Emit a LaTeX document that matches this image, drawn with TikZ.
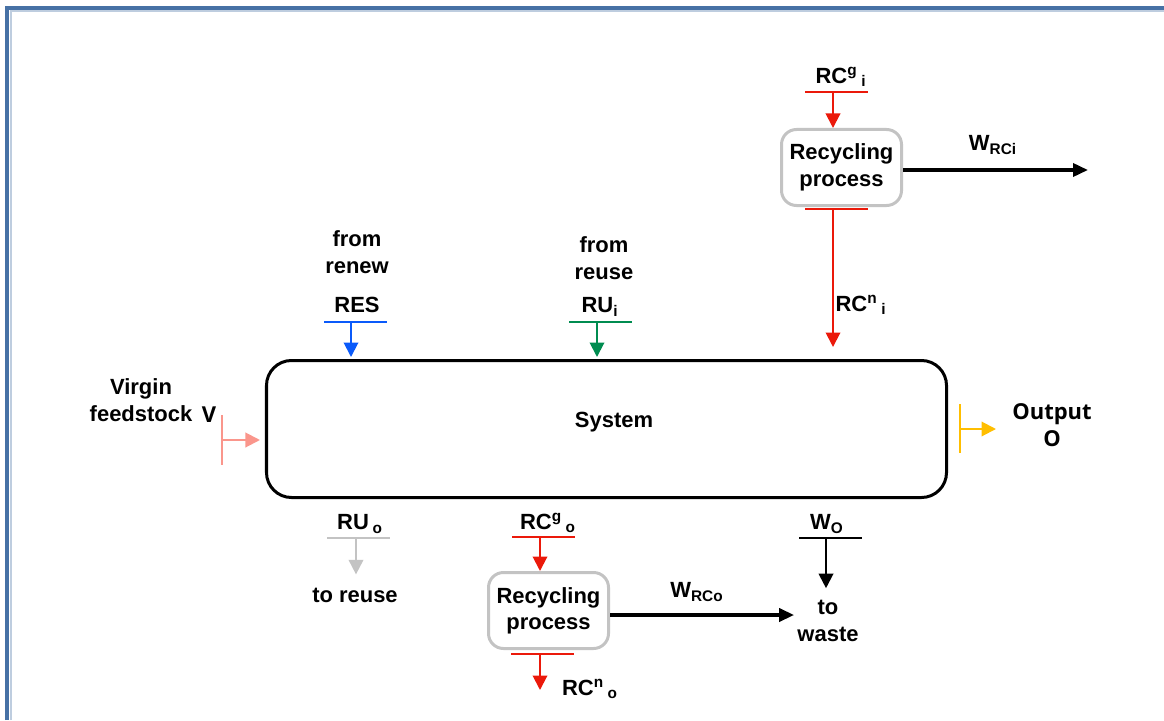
\documentclass[tikz,border=0pt]{standalone}
\usepackage{fontspec}
\setmainfont{Liberation Sans}
\newfontfamily\outfont{Open Sans}
\usetikzlibrary{arrows.meta}
\definecolor{frameblue}{RGB}{71,113,165}
\definecolor{flowred}{RGB}{235,25,10}
\definecolor{flowblue}{RGB}{10,90,250}
\definecolor{flowgreen}{RGB}{0,140,80}
\definecolor{flowpink}{RGB}{250,150,140}
\definecolor{flowyellow}{RGB}{255,190,0}
\definecolor{flowgrey}{RGB}{195,195,195}
\tikzset{system/.style = {draw,line width=0.6mm,rounded corners=5mm,minimum width=136mm,minimum height=27.4mm}}
\tikzset{process/.style = {draw=flowgrey,line width=0.6mm,rounded corners=3mm,minimum width=24mm,minimum height=15.2mm,align=center,inner sep=0pt}}
\tikzset{txt/.style = {align=center,inner sep=0pt}}
\tikzset{bar/.style = {line width=0.4mm}}
\tikzset{flow/.style = {-{Triangle[length=2.9mm,width=2.9mm]},line width=0.4mm}}
\tikzset{waste/.style = {-{Triangle[length=3mm,width=2.6mm]},line width=0.7mm}}

\begin{document}
\begin{tikzpicture}[x=0.2mm,y=-0.2mm,font=\bfseries\fontsize{12.5}{15}\selectfont]
	\useasboundingbox (0,0) rectangle (1164,720);
	
	% frame
	\draw[frameblue!35,line width=0.4mm] (10.5,720) -- (10.5,11.5) -- (1164,11.5);
	\draw[frameblue,line width=0.7mm] (7,720) -- (7,8) -- (1164,8);
	
	% boxes
	\node[system] (sys) at (606.5,429) {};
	\node[txt] (systxt) at (614,422) {System};
	\node[process] (reci) at (841.5,167.5) {Recycling\\process};
	\node[process] (reco) at (548.5,610.5) {Recycling\\process};
	
	% labels
	\node[txt] (renew) at (357,252) {from\\renew};
	\node[txt] (restxt) at (357,305) {RES};
	\node[txt] (reuse) at (604,258) {from\\reuse};
	\node[txt] (ruitxt) at (600,307) {RU\textsubscript{i}};
	\node[txt] (virgin) at (141,400) {Virgin\\feedstock};
	\node[txt,font=\outfont\bfseries\fontsize{12.5}{14.5}\selectfont] (vtxt) at (209,415) {V};
	\node[txt,font=\outfont\bfseries\fontsize{12.5}{15.5}\selectfont] (output) at (1052,425) {Output\\O};
	\node[txt] (rcgitxt) at (841,77) {RC\textsuperscript{g}\,\textsubscript{i}};
	\node[txt] (rcnitxt) at (861,305) {RC\textsuperscript{n}\,\textsubscript{i}};
	\node[txt] (wrcitxt) at (993,145) {W\textsubscript{RCi}};
	\node[txt] (ruotxt) at (360,524) {RU\,\textsubscript{o}};
	\node[txt] (toreuse) at (355,595) {to reuse};
	\node[txt] (rcgotxt) at (548,523) {RC\textsuperscript{g}\,\textsubscript{o}};
	\node[txt] (rcnotxt) at (590,689) {RC\textsuperscript{n}\,\textsubscript{o}};
	\node[txt] (wrcotxt) at (697,592) {W\textsubscript{RCo}};
	\node[txt] (wotxt) at (827,524) {W\textsubscript{O}};
	\node[txt] (towaste) at (828,621) {to\\waste};
	
	% bars
	\coordinate (resL) at (324,322); \coordinate (resR) at (387,322); \coordinate (res) at (351,322);
	\coordinate (ruiL) at (569,322); \coordinate (ruiR) at (632,322); \coordinate (rui) at (597,322);
	\coordinate (vT) at (222,415); \coordinate (vB) at (222,465); \coordinate (v) at (222,440);
	\coordinate (oT) at (960,404); \coordinate (oB) at (960,453); \coordinate (o) at (960,429);
	\coordinate (oend) at (996,429);
	\coordinate (rcgiL) at (805,92); \coordinate (rcgiR) at (868,92); \coordinate (rcgi) at (833,92);
	\coordinate (rcniL) at (805,209); \coordinate (rcniR) at (868,209); \coordinate (rcni) at (833,209);
	\coordinate (wiend) at (1088,170);
	\coordinate (ruoL) at (327,538); \coordinate (ruoR) at (390,538); \coordinate (ruo) at (356,538);
	\coordinate (rcgoL) at (512,537); \coordinate (rcgoR) at (575,537); \coordinate (rcgo) at (540,537);
	\coordinate (rcnoL) at (511,654); \coordinate (rcnoR) at (574,654); \coordinate (rcno) at (540,654);
	\coordinate (rcnoend) at (540,690);
	\coordinate (woL) at (799,538); \coordinate (woR) at (862,538); \coordinate (wo) at (826,538);
	\coordinate (wostart) at (609,615);
	
	\draw[bar,flowblue] (resL) -- (resR);
	\draw[bar,flowgreen] (ruiL) -- (ruiR);
	\draw[bar,flowpink] (vT) -- (vB);
	\draw[bar,flowyellow] (oT) -- (oB);
	\draw[bar,flowred] (rcgiL) -- (rcgiR);
	\draw[bar,flowred] (rcniL) -- (rcniR);
	\draw[bar,flowgrey] (ruoL) -- (ruoR);
	\draw[bar,flowred] (rcgoL) -- (rcgoR);
	\draw[bar,flowred] (rcnoL) -- (rcnoR);
	\draw[bar] (woL) -- (woR);
	
	% flows
	\draw[flow,flowblue,shorten >=0.4mm] (res) -- (res |- sys.north);
	\draw[flow,flowgreen,shorten >=0.4mm] (rui) -- (rui |- sys.north);
	\draw[flow,flowpink,shorten >=1mm] (v) -- (v -| sys.west);
	\draw[flow,flowyellow] (o) -- (oend);
	\draw[flow,flowred] (rcgi) -- (rcgi |- reci.north);
	\draw[flow,flowred,shorten >=2.4mm] (rcni) -- (rcni |- sys.north);
	\draw[flow,flowgrey,shorten >=2.6mm] (ruo) -- (ruo |- toreuse.north);
	\draw[flow,flowred] (rcgo) -- (rcgo |- reco.north);
	\draw[flow,flowred] (rcno) -- (rcnoend);
	\draw[flow,shorten >=2.4mm] (wo) -- (wo |- towaste.north);
	\draw[waste] (reci.east |- wiend) -- (wiend);
	\draw[waste,shorten >=0.6mm] (reco.east |- wostart) -- (towaste.west |- wostart);
\end{tikzpicture}
\end{document}
